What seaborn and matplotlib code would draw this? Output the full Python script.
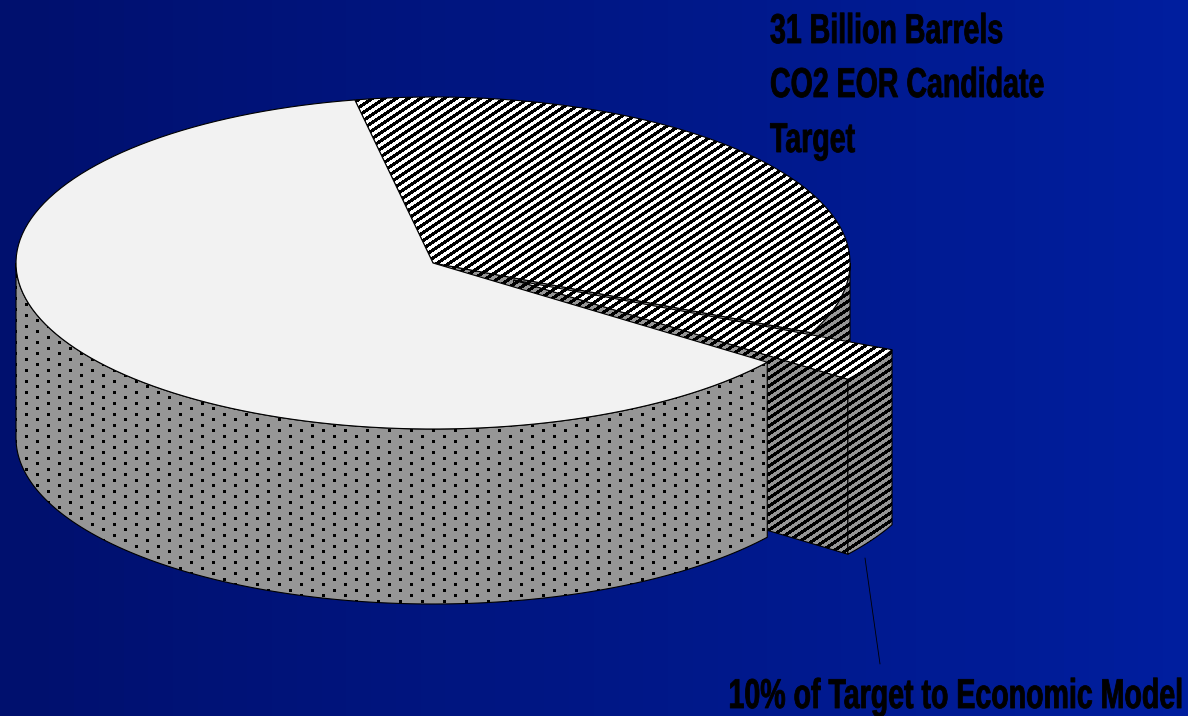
import numpy as np
import seaborn as sns
from matplotlib import pyplot as plt
from matplotlib.colors import to_rgb
from matplotlib.patches import Polygon
from matplotlib.patheffects import AbstractPathEffect
from matplotlib.transforms import Affine2D

# shares of the pie, clockwise from the top cut (percent)
slice_names = ['Candidate target', '10% to model', 'Rest']
slice_shares = [34.9, 3.3, 61.8]
start_angle = 100.8

upper_label = ['31 Billion Barrels', 'CO2 EOR Candidate', 'Target']
lower_label = '10% of Target to Economic Model'

W, H = 1188, 716
cx, cy, rx, ry = 433, 263, 417, 166
depth = 175
explode_x, explode_y = 0.225, 0.2

sns.set_theme(style='white')
plt.rcParams['font.family'] = ['Liberation Sans Narrow', 'Liberation Sans', 'DejaVu Sans']


class Squeeze(AbstractPathEffect):
    # narrows the drawn text around x0 and thickens it a little
    def __init__(self, x0, sx, width):
        self.x0, self.sx, self.width = x0, sx, width

    def draw_path(self, renderer, gc, tpath, affine, rgbFace=None):
        gc0 = renderer.new_gc()
        gc0.copy_properties(gc)
        gc0.set_linewidth(self.width)
        gc0.set_foreground('black')
        squeeze = Affine2D().translate(-self.x0, 0).scale(self.sx, 1).translate(self.x0, 0)
        renderer.draw_path(gc0, tpath, affine + squeeze, rgbFace)
        gc0.restore()


def arc(a1, a2, off=(0, 0), drop=0, n=120):
    t = np.radians(np.linspace(a1, a2, n))
    return np.column_stack([cx + off[0] + rx * np.cos(t), cy + off[1] + drop - ry * np.sin(t)])


yy, xx = np.mgrid[0:H, 0:W]
stripe = (2 * xx + 3 * yy) % 24 < 12
gray = np.array(to_rgb('#969696'))
black = np.zeros(3)
top_stripes = np.where(stripe[..., None], black, np.ones(3))
side_stripes = np.where(stripe[..., None], black, gray)

# staggered dots, 22 px apart in a row, rows 5.5 px apart
rows = np.floor(yy / 5.5).astype(int)
dots = ((yy % 5.5) < 3) & (((xx - 14 + 11 * (rows % 2)) % 22) < 3)
dot_side = np.where(dots[..., None], black, gray)
white_top = np.ones((H, W, 3)) * np.array(to_rgb('#F2F2F2'))

fig, ax = plt.subplots(figsize=(W / 100, H / 100), dpi=100)
fig.subplots_adjust(0, 0, 1, 1)

band = np.array(sns.blend_palette(['#00106E', '#001E9E'], n_colors=48))[None, :, :]
ax.imshow(band, extent=(0, W, H, 0), aspect='auto', interpolation='nearest', zorder=0)

z = [1]


def face(points, pattern, lw=0.8):
    im = ax.imshow(pattern, extent=(0, W, H, 0), aspect='auto', interpolation='nearest', zorder=z[0])
    patch = Polygon(points, closed=True, fc='none', ec='black', lw=lw, zorder=z[0] + 0.5)
    ax.add_patch(patch)
    im.set_clip_path(patch)
    z[0] += 1


sweeps = np.array(slice_shares) * 3.6
a0 = start_angle
a1 = a0 - sweeps[0]   # main striped slice ends here
a2 = a1 - sweeps[1]   # exploded sliver ends here
mid = np.radians((a1 + a2) / 2)
off = (rx * explode_x * np.cos(mid), -ry * explode_y * np.sin(mid))
centre = np.array([[cx, cy]])
apex = centre + np.array(off)

# main striped slice: rim, cut face, top
rim = arc(0, a1)
face(np.vstack([rim, arc(a1, 0, drop=depth)]), side_stripes)
p1 = arc(a1, a1, n=1)
face(np.vstack([centre, p1, p1 + [0, depth], centre + [0, depth]]), side_stripes)
face(np.vstack([centre, arc(a0, a1)]), top_stripes)

# sliver: cut face, rim, top
c2 = arc(a2, a2, off=off, n=1)
face(np.vstack([apex, c2, c2 + [0, depth], apex + [0, depth]]), side_stripes)
face(np.vstack([arc(a1, a2, off=off), arc(a2, a1, off=off, drop=depth)]), side_stripes)
face(np.vstack([apex, arc(a1, a2, off=off)]), top_stripes)

# white slice: dotted rim and top
face(np.vstack([arc(180, 360 + a2), arc(360 + a2, 180, drop=depth)]), dot_side)
face(np.vstack([centre, arc(a0, 360 + a2)]), white_top)

ax.plot([865, 880], [558, 664], color='black', lw=0.6, zorder=z[0])

for label, base in zip(upper_label, [43, 97, 152]):
    ax.text(770, base, label, fontsize=30, fontweight='bold', color='black', ha='left', va='baseline',
            zorder=z[0], path_effects=[Squeeze(770, 0.685, 0.6)])
ax.text(1183, 708, lower_label, fontsize=30, fontweight='bold', color='black', ha='right', va='baseline',
        zorder=z[0], path_effects=[Squeeze(1183, 0.685, 0.6)])

ax.set_xlim(0, W)
ax.set_ylim(H, 0)
ax.axis('off')
fig.savefig('out.png', dpi=100)
